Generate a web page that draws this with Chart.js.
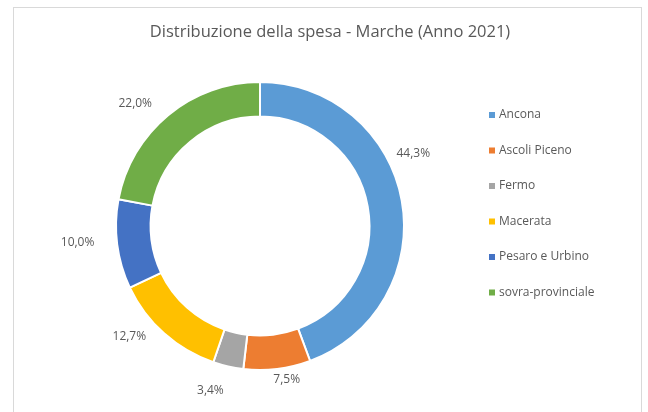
<!DOCTYPE html>
<html>
<head>
<meta charset="utf-8">
<script src="https://cdn.jsdelivr.net/npm/chart.js@4"></script>
<style>
  html, body { margin: 0; padding: 0; background: #fff; }
  #wrap { position: relative; width: 648px; height: 412px; overflow: hidden; }
  #frame { position: absolute; left: 13px; top: 7px; width: 629px; height: 430px; border: 1px solid #d9d9d9; box-sizing: border-box; }
  #chart { position: absolute; left: 0; top: 0; }
</style>
</head>
<body>
<div id="wrap">
  <div id="frame"></div>
  <canvas id="chart" width="648" height="412"></canvas>
</div>
<script>
  const titleText = "Distribuzione della spesa - Marche (Anno 2021)";
  const labels = ["Ancona", "Ascoli Piceno", "Fermo", "Macerata", "Pesaro e Urbino", "sovra-provinciale"];
  const values = [44.3, 7.5, 3.4, 12.7, 10.0, 22.0];
  const colors = ["#5b9bd5", "#ed7d31", "#a5a5a5", "#ffc000", "#4472c4", "#70ad47"];

  const FONT = "'Open Sans', 'Noto Sans', sans-serif";
  const TEXT = "#595959";

  function fmt(v) {
    return v.toFixed(1).replace(".", ",") + "%";
  }

  // title, outside labels and legend drawn on the canvas
  const decor = {
    id: "decor",
    afterDatasetsDraw(chart, args, opts) {
      const ctx = chart.ctx;
      ctx.save();
      ctx.fillStyle = TEXT;

      ctx.font = "16.5px " + FONT;
      ctx.textAlign = "center";
      ctx.textBaseline = "middle";
      ctx.fillText(titleText, 330, 32);

      // percent labels outside the ring
      ctx.font = "12px " + FONT;
      const meta = chart.getDatasetMeta(0);
      meta.data.forEach(function (arc, i) {
        const txt = fmt(values[i]);
        const halfW = ctx.measureText(txt).width / 2;
        const halfH = 5;
        const a = (arc.startAngle + arc.endAngle) / 2 + (opts.nudge[i] || 0) * Math.PI / 180;
        const c = Math.cos(a), s = Math.sin(a);
        const r = arc.outerRadius + opts.gap + (opts.push[i] || 0) + Math.abs(c) * halfW + Math.abs(s) * halfH;
        ctx.fillText(txt, arc.x + c * r, arc.y + s * r);
      });

      // legend
      ctx.textAlign = "left";
      labels.forEach(function (name, i) {
        const y = opts.legendTop + i * opts.legendStep;
        ctx.fillStyle = colors[i];
        ctx.fillRect(opts.legendX, y - 3, 6, 6);
        ctx.fillStyle = TEXT;
        ctx.fillText(name, opts.legendX + 10, y);
      });
      ctx.restore();
    }
  };

  new Chart(document.getElementById("chart"), {
    type: "doughnut",
    data: {
      labels: labels,
      datasets: [{
        data: values,
        backgroundColor: colors,
        borderColor: "#ffffff",
        borderWidth: 2
      }]
    },
    options: {
      responsive: false,
      animation: false,
      cutout: "76%",
      layout: { padding: { top: 81, bottom: 41, left: 115, right: 243 } },
      plugins: {
        legend: { display: false },
        tooltip: { enabled: false },
        decor: {
          gap: 13,
          nudge: [-15, -3, 4, 8, 2, -6],
          push: [-5, -8, 6, -2, 9, 2],
          legendX: 489,
          legendTop: 115,
          legendStep: 35.5
        }
      }
    },
    plugins: [decor]
  });
</script>
</body>
</html>
